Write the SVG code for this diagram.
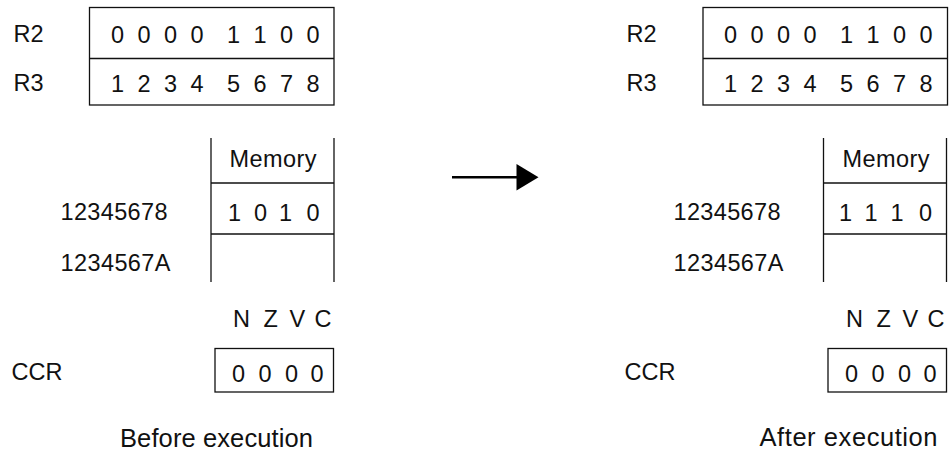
<svg xmlns="http://www.w3.org/2000/svg" width="952" height="455" viewBox="0 0 952 455">
  <style>
    text { font-family: "Liberation Sans", Arial, sans-serif; font-size: 23.5px; fill: #111; }
    .cap { font-size: 25.5px; }
    .ln { fill: none; stroke: #111; stroke-width: 1.3; }
    .conn { stroke: #000; stroke-width: 2.5; fill: none; }
  </style>

  <g id="before">
    <g id="before-registers">
      <text x="13.5" y="42">R2</text>
      <text x="13.5" y="91">R3</text>
      <rect class="ln" x="89.5" y="7.5" width="244.5" height="97.5"/>
      <line class="ln" x1="89.5" y1="58.5" x2="334" y2="58.5"/>
      <text x="111 137.5 164 190.5 227 253.5 280 306.5" y="43">00001100</text>
      <text x="111 137.5 164 190.5 227 253.5 280 306.5" y="92">12345678</text>
    </g>
    <g id="before-memory">
      <line class="ln" x1="211" y1="138" x2="211" y2="282"/>
      <line class="ln" x1="334" y1="138" x2="334" y2="282"/>
      <line class="ln" x1="211" y1="183" x2="334" y2="183"/>
      <line class="ln" x1="211" y1="234" x2="334" y2="234"/>
      <text x="229.5" y="167" textLength="87" lengthAdjust="spacing">Memory</text>
      <text x="228 254 279 306.5" y="221">1010</text>
      <text x="60.5" y="220" textLength="107" lengthAdjust="spacing">12345678</text>
      <text x="60.5" y="271" textLength="110" lengthAdjust="spacing">1234567A</text>
    </g>
    <g id="before-ccr">
      <text x="233 263.5 289.5 314.5" y="327">NZVC</text>
      <text x="11.5" y="379.5">CCR</text>
      <rect class="ln" x="215" y="348.5" width="118.5" height="43.5"/>
      <text x="232 258.5 285 310.5" y="381.5">0000</text>
    </g>
    <text id="before-caption" class="cap" x="120" y="446.5" textLength="193" lengthAdjust="spacing">Before execution</text>
  </g>

  <g id="connectors">
    <line class="conn" x1="452" y1="177.3" x2="518" y2="177.3"/>
    <polygon points="516.5,164 538.5,177.3 516.5,190.5" fill="#000"/>
  </g>

  <g id="after">
    <g id="after-registers">
      <text x="626.5" y="42">R2</text>
      <text x="626.5" y="91">R3</text>
      <rect class="ln" x="703" y="7.5" width="244.5" height="97.5"/>
      <line class="ln" x1="703" y1="58.5" x2="947.5" y2="58.5"/>
      <text x="724 750.5 777 803.5 840 866.5 893 919.5" y="43">00001100</text>
      <text x="724 750.5 777 803.5 840 866.5 893 919.5" y="92">12345678</text>
    </g>
    <g id="after-memory">
      <line class="ln" x1="823.5" y1="138" x2="823.5" y2="282"/>
      <line class="ln" x1="946.5" y1="138" x2="946.5" y2="282"/>
      <line class="ln" x1="823.5" y1="183" x2="946.5" y2="183"/>
      <line class="ln" x1="823.5" y1="234" x2="946.5" y2="234"/>
      <text x="842.5" y="167" textLength="87" lengthAdjust="spacing">Memory</text>
      <text x="839 864.5 890.5 919" y="221">1110</text>
      <text x="673.5" y="220" textLength="107" lengthAdjust="spacing">12345678</text>
      <text x="673.5" y="271" textLength="110" lengthAdjust="spacing">1234567A</text>
    </g>
    <g id="after-ccr">
      <text x="846 876.5 902.5 927.5" y="327">NZVC</text>
      <text x="624.5" y="379.5">CCR</text>
      <rect class="ln" x="828" y="348.5" width="118.5" height="43.5"/>
      <text x="845 871.5 898 923.5" y="381.5">0000</text>
    </g>
    <text id="after-caption" class="cap" x="759.5" y="446" textLength="178" lengthAdjust="spacing">After execution</text>
  </g>
</svg>
